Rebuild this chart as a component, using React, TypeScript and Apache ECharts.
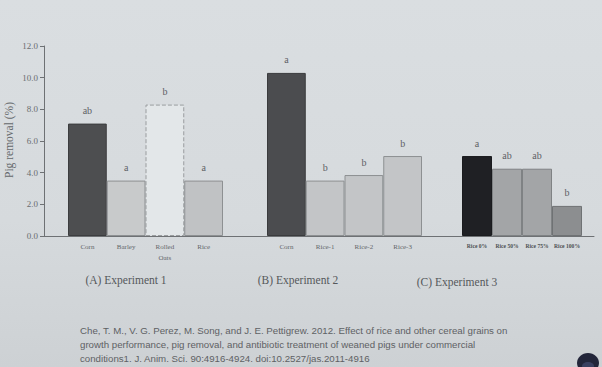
import React, { useEffect, useRef } from "react";
import * as echarts from "echarts";

const exp1Categories = ["Corn", "Barley", "Rolled\nOats", "Rice"];
const exp1Values = [7.1, 3.5, 8.3, 3.5];
const exp1Letters = ["ab", "a", "b", "a"];

const exp2Categories = ["Corn", "Rice-1", "Rice-2", "Rice-3"];
const exp2Values = [10.3, 3.5, 3.85, 5.05];
const exp2Letters = ["a", "b", "b", "b"];

const exp3Categories = ["Rice 0%", "Rice 50%", "Rice 75%", "Rice 100%"];
const exp3Values = [5.05, 4.25, 4.25, 1.9];
const exp3Letters = ["a", "ab", "ab", "b"];

const yMin = 0;
const yMax = 12;
const yInterval = 2;

const groupTitles = ["(A) Experiment 1", "(B) Experiment 2", "(C) Experiment 3"];
const yTitle = "Pig removal (%)";
const citationLines = [
  "Che, T. M., V. G. Perez, M. Song, and J. E. Pettigrew. 2012. Effect of rice and other cereal grains on",
  "growth performance, pig removal, and antibiotic treatment of weaned pigs under commercial",
  "conditions1. J. Anim. Sci. 90:4916-4924. doi:10.2527/jas.2011-4916",
];

const SERIF = "'Liberation Serif', 'DejaVu Serif', serif";
const TEXT = "#55585b";

const exp1Styles = [
  { color: "#4d4e50", borderColor: "#3c3d3f", borderType: "solid" },
  { color: "#c8cacb", borderColor: "#8d9092", borderType: "solid" },
  { color: "#e3e7e9", borderColor: "#9a9d9f", borderType: "dashed" },
  { color: "#c0c2c4", borderColor: "#8d9092", borderType: "solid" },
];
const exp2Styles = [
  { color: "#4b4c4f", borderColor: "#3a3b3d", borderType: "solid" },
  { color: "#c3c5c7", borderColor: "#8d9092", borderType: "solid" },
  { color: "#c3c5c7", borderColor: "#8d9092", borderType: "solid" },
  { color: "#c3c5c7", borderColor: "#8d9092", borderType: "solid" },
];
const exp3Styles = [
  { color: "#1f2024", borderColor: "#1a1b1e", borderType: "solid" },
  { color: "#a3a5a7", borderColor: "#7f8284", borderType: "solid" },
  { color: "#a3a5a7", borderColor: "#7f8284", borderType: "solid" },
  { color: "#8c8e90", borderColor: "#6f7274", borderType: "solid" },
];

export default function App() {
  const ref = useRef<HTMLDivElement>(null);
  useEffect(() => {
    if (!ref.current) return;
    const chart = echarts.init(ref.current, null, { renderer: "svg" });

    const top = 46;
    const bottom = 131;
    const groups = [
      { cats: exp1Categories, vals: exp1Values, letters: exp1Letters, styles: exp1Styles, left: 68, right: 379, labelSize: 7, labelWeight: "normal", labelColor: "#63666a" },
      { cats: exp2Categories, vals: exp2Values, letters: exp2Letters, styles: exp2Styles, left: 267, right: 180, labelSize: 7, labelWeight: "normal", labelColor: "#63666a" },
      { cats: exp3Categories, vals: exp3Values, letters: exp3Letters, styles: exp3Styles, left: 462, right: 20, labelSize: 5.6, labelWeight: "bold", labelColor: "#4e5154" },
    ];

    const grids: any[] = [
      { left: 44, right: 8, top, bottom, outerBoundsMode: "none" },
      ...groups.map((g) => ({ left: g.left, right: g.right, top, bottom, outerBoundsMode: "none" })),
    ];

    const xAxes: any[] = [
      {
        type: "value",
        gridIndex: 0,
        min: 0,
        max: 1,
        axisLine: { show: true, lineStyle: { color: "#6e7174", width: 1 } },
        axisTick: { show: false },
        axisLabel: { show: false },
        splitLine: { show: false },
      },
      ...groups.map((g, i) => ({
        type: "category",
        gridIndex: i + 1,
        data: g.cats,
        axisLine: { show: false },
        axisTick: { show: false },
        splitLine: { show: false },
        axisLabel: {
          interval: 0,
          fontFamily: SERIF,
          fontSize: g.labelSize,
          fontWeight: g.labelWeight,
          color: g.labelColor,
          margin: 5,
          lineHeight: g.labelSize + 4,
        },
      })),
    ];

    const yAxes: any[] = [
      {
        type: "value",
        gridIndex: 0,
        min: yMin,
        max: yMax,
        interval: yInterval,
        axisLine: { show: true, lineStyle: { color: "#6e7174", width: 1 } },
        axisTick: { show: true, length: 4, inside: false, lineStyle: { color: "#6e7174" } },
        splitLine: { show: false },
        axisLabel: {
          formatter: (v: number) => v.toFixed(1),
          fontFamily: SERIF,
          fontSize: 9,
          color: "#6a6d70",
          margin: 6,
        },
      },
      ...groups.map((_, i) => ({
        type: "value",
        gridIndex: i + 1,
        min: yMin,
        max: yMax,
        show: false,
        splitLine: { show: false },
      })),
    ];

    const series: any[] = groups.map((g, i) => ({
      type: "bar",
      xAxisIndex: i + 1,
      yAxisIndex: i + 1,
      barCategoryGap: "0%",
      data: g.vals.map((v, j) => ({
        value: v,
        itemStyle: {
          color: g.styles[j].color,
          borderColor: g.styles[j].borderColor,
          borderType: g.styles[j].borderType,
          borderWidth: 1,
        },
        label: { formatter: g.letters[j] },
      })),
      label: {
        show: true,
        position: "top",
        distance: 8,
        fontFamily: SERIF,
        fontSize: 10,
        color: "#5f6266",
      },
    }));

    const titleCenters = [126, 298, 457];
    const titleYs = [280, 280, 282];

    const graphic: any[] = [
      {
        type: "text",
        x: 9,
        y: 140,
        rotation: Math.PI / 2,
        style: {
          text: yTitle,
          fontFamily: SERIF,
          fontSize: 11.5,
          fill: "#65686b",
          align: "center",
          verticalAlign: "middle",
        },
      },
      ...groupTitles.map((t, i) => ({
        type: "text",
        x: titleCenters[i],
        y: titleYs[i],
        style: {
          text: t,
          fontFamily: SERIF,
          fontSize: 11.5,
          fill: TEXT,
          align: "center",
          verticalAlign: "middle",
        },
      })),
      ...citationLines.map((t, i) => ({
        type: "text",
        x: 80,
        y: 330 + i * 14,
        style: {
          text: t,
          fontFamily: "'Liberation Sans', Arial, sans-serif",
          fontSize: 9.7,
          fill: "#5e6164",
          align: "left",
          verticalAlign: "middle",
        },
      })),
      {
        type: "ellipse",
        shape: { cx: 588, cy: 363, rx: 11, ry: 10 },
        style: { fill: "#23263a" },
      },
      {
        type: "ellipse",
        shape: { cx: 588, cy: 366, rx: 6, ry: 4 },
        style: { fill: "#3a4060" },
      },
    ];

    chart.setOption({
      animation: false,
      backgroundColor: "transparent",
      grid: grids,
      xAxis: xAxes,
      yAxis: yAxes,
      series,
      graphic,
    });

    return () => chart.dispose();
  }, []);

  return (
    <div
      style={{
        position: "fixed",
        left: 0,
        top: 0,
        width: 602,
        height: 367,
        background: "linear-gradient(180deg, #dadee1 0%, #d6dadd 60%, #cdd1d4 100%)",
      }}
    >
      <div ref={ref} style={{ width: 602, height: 367 }} />
    </div>
  );
}
